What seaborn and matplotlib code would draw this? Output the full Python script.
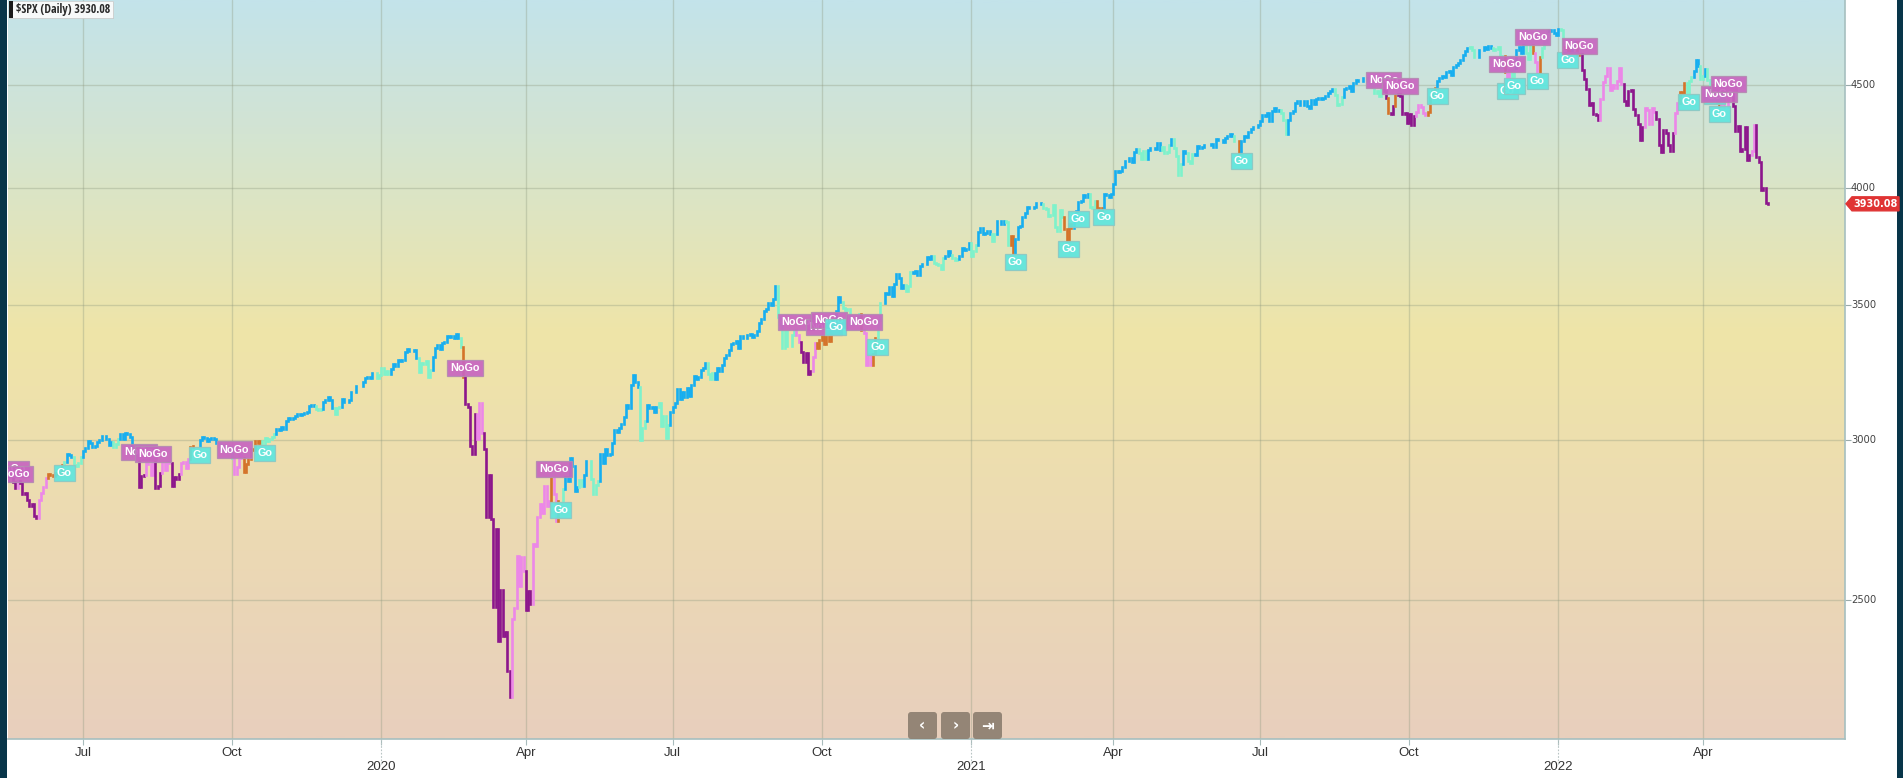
import numpy as np
import pandas as pd
import matplotlib
matplotlib.use("Agg")
import matplotlib.pyplot as plt
import seaborn as sns
from matplotlib import font_manager
from matplotlib.font_manager import FontProperties
from matplotlib.patches import Rectangle, Polygon, FancyBboxPatch
from matplotlib.colors import LinearSegmentedColormap
from matplotlib.ticker import NullLocator, NullFormatter
from matplotlib.transforms import IdentityTransform, blended_transform_factory

# ---------------------------------------------------------------- data
# Daily closes of $SPX, 16 May 2019 .. 12 May 2022 (one value per session)
spx_2019 = [
    2876, 2860, 2840, 2864, 2856, 2822, 2826, 2802, 2783, 2789, 2752,
    2744, 2803, 2826, 2843, 2873, 2886, 2885, 2879, 2891, 2887, 2889, 2917, 2926, 2954, 2950, 2945, 2917, 2913, 2924, 2942,
    2964, 2973, 2996, 2990, 2976, 2979, 2993, 3000, 3014, 3014, 3004, 2985, 2995, 2977, 2986, 3005, 3020, 3004, 3026, 3021, 3013, 2980,
    2954, 2932, 2844, 2881, 2884, 2938, 2919, 2883, 2926, 2840, 2848, 2889, 2924, 2901, 2925, 2923, 2847, 2878, 2869, 2888, 2924, 2926,
    2906, 2938, 2977, 2979, 2979, 2980, 3001, 3010, 3007, 2998, 3006, 3007, 3006, 2992, 2992, 2967, 2985, 2977, 2962, 2977,
    2940, 2888, 2910, 2952, 2939, 2893, 2919, 2938, 2970, 2966, 2996, 2990, 2998, 2986, 3007, 2996, 3004, 3010, 3023, 3040, 3036, 3047, 3038,
    3067, 3078, 3075, 3077, 3085, 3093, 3087, 3091, 3094, 3097, 3120, 3122, 3120, 3108, 3104, 3110, 3134, 3141, 3153, 3141,
    3114, 3093, 3113, 3117, 3146, 3135, 3133, 3142, 3169, 3169, 3192, 3192, 3191, 3206, 3221, 3224, 3223, 3240, 3240, 3221, 3231,
]
spx_2020 = [
    3258, 3235, 3246, 3237, 3253, 3275, 3265, 3288, 3283, 3289, 3317, 3330, 3321, 3321, 3326, 3295, 3244, 3276, 3273, 3284, 3226,
    3249, 3298, 3334, 3345, 3328, 3352, 3358, 3379, 3374, 3380, 3370, 3386, 3373, 3338, 3226, 3128, 3116, 2979, 2954,
    3090, 3003, 3130, 3024, 2972, 2747, 2882, 2741, 2481, 2711, 2386, 2529, 2398, 2409, 2305, 2237, 2447, 2476, 2630, 2541, 2627, 2585,
    2471, 2527, 2489, 2664, 2659, 2750, 2790, 2762, 2846, 2783, 2800, 2875, 2823, 2737, 2799, 2798, 2837, 2878, 2863, 2940, 2912,
    2830, 2843, 2868, 2848, 2882, 2930, 2930, 2870, 2820, 2852, 2864, 2954, 2923, 2972, 2949, 2955, 2992, 3036, 3030, 3044,
    3056, 3081, 3123, 3112, 3194, 3232, 3207, 3190, 3002, 3041, 3067, 3125, 3114, 3115, 3098, 3118, 3131, 3050, 3084, 3009, 3053, 3100,
    3116, 3130, 3180, 3145, 3169, 3152, 3185, 3155, 3197, 3227, 3216, 3225, 3251, 3257, 3276, 3236, 3216, 3239, 3218, 3258, 3246, 3271,
    3295, 3306, 3327, 3349, 3351, 3360, 3333, 3380, 3373, 3373, 3382, 3389, 3375, 3385, 3397, 3431, 3444, 3479, 3485, 3508, 3500,
    3527, 3580, 3455, 3427, 3332, 3399, 3340, 3341, 3383, 3401, 3385, 3357, 3320, 3282, 3316, 3237, 3247, 3298, 3351, 3335, 3363,
    3381, 3348, 3409, 3361, 3419, 3447, 3477, 3535, 3512, 3489, 3483, 3484, 3427, 3443, 3436, 3453, 3465, 3401, 3391, 3271, 3310, 3270,
    3310, 3370, 3443, 3510, 3509, 3551, 3545, 3572, 3537, 3585, 3627, 3610, 3568, 3582, 3558, 3578, 3635, 3630, 3638, 3622,
    3662, 3669, 3667, 3699, 3692, 3702, 3673, 3668, 3663, 3647, 3695, 3702, 3722, 3709, 3695, 3687, 3690, 3703, 3735, 3727, 3732, 3756,
]
spx_2021 = [
    3701, 3726, 3748, 3804, 3825, 3799, 3801, 3810, 3795, 3768, 3798, 3852, 3853, 3841, 3855, 3850, 3751, 3787, 3714,
    3774, 3826, 3830, 3872, 3887, 3916, 3911, 3910, 3917, 3934, 3933, 3931, 3913, 3907, 3877, 3881, 3925, 3829, 3811,
    3901, 3870, 3820, 3768, 3842, 3821, 3875, 3899, 3939, 3943, 3969, 3963, 3974, 3915, 3913, 3941, 3911, 3889, 3910, 3975, 3971, 3959, 3973,
    4020, 4078, 4074, 4080, 4097, 4129, 4128, 4142, 4124, 4171, 4185, 4164, 4135, 4173, 4135, 4180, 4188, 4187, 4184, 4211, 4181,
    4193, 4165, 4168, 4202, 4233, 4189, 4153, 4063, 4113, 4174, 4164, 4128, 4116, 4160, 4156, 4198, 4188, 4195, 4201, 4204,
    4202, 4208, 4192, 4230, 4226, 4227, 4219, 4239, 4247, 4255, 4247, 4224, 4222, 4166, 4224, 4246, 4242, 4266, 4281, 4291, 4291, 4298,
    4320, 4352, 4344, 4358, 4321, 4370, 4385, 4369, 4374, 4360, 4327, 4258, 4323, 4359, 4368, 4412, 4422, 4402, 4401, 4419, 4395,
    4387, 4423, 4403, 4429, 4437, 4432, 4436, 4447, 4460, 4468, 4479, 4449, 4400, 4406, 4442, 4480, 4486, 4497, 4470, 4509, 4529, 4523,
    4524, 4537, 4535, 4520, 4514, 4493, 4459, 4469, 4443, 4481, 4473, 4433, 4358, 4355, 4395, 4449, 4455, 4443, 4353, 4360, 4308,
    4357, 4300, 4346, 4364, 4399, 4391, 4361, 4351, 4364, 4438, 4471, 4486, 4520, 4537, 4550, 4545, 4567, 4575, 4551, 4597, 4605,
    4614, 4631, 4660, 4680, 4697, 4702, 4685, 4646, 4650, 4683, 4683, 4701, 4688, 4704, 4698, 4683, 4690, 4701, 4595, 4655, 4567,
    4513, 4577, 4538, 4592, 4686, 4701, 4668, 4712, 4669, 4635, 4709, 4669, 4621, 4568, 4649, 4697, 4726, 4791, 4786, 4793, 4778, 4766,
]
spx_2022 = [
    4797, 4794, 4701, 4696, 4677, 4670, 4713, 4726, 4660, 4663, 4577, 4533, 4483, 4398, 4410, 4357, 4350, 4326, 4432, 4516,
    4546, 4589, 4477, 4501, 4484, 4522, 4587, 4504, 4419, 4402, 4472, 4475, 4380, 4349, 4305, 4225, 4288, 4385, 4374,
    4306, 4387, 4363, 4329, 4201, 4171, 4278, 4260, 4204, 4173, 4263, 4358, 4412, 4463, 4461, 4512, 4457, 4520, 4543, 4576, 4632, 4602, 4530,
    4546, 4583, 4525, 4481, 4500, 4488, 4413, 4397, 4447, 4392, 4391, 4463, 4459, 4394, 4272, 4297, 4175, 4184, 4288, 4132,
    4155, 4175, 4300, 4147, 4123, 3991, 4001, 3935, 3930.08,
]

# Exchange holidays inside the window
market_holidays = [
    "2019-05-27", "2019-07-04", "2019-09-02", "2019-11-28", "2019-12-25",
    "2020-01-01", "2020-01-20", "2020-02-17", "2020-04-10", "2020-05-25", "2020-07-03",
    "2020-09-07", "2020-11-26", "2020-12-25",
    "2021-01-01", "2021-01-18", "2021-02-15", "2021-04-02", "2021-05-31", "2021-07-05",
    "2021-09-06", "2021-11-25", "2021-12-24",
    "2022-01-17", "2022-02-21", "2022-04-15",
]

# GoNoGo regime: first session of each regime
# G = strong Go, g = weak Go, A = amber, n = weak NoGo, N = strong NoGo
regime_start = [
    "2019-05-16", "2019-05-21", "2019-05-22", "2019-06-04", "2019-06-10", "2019-06-19", "2019-06-20", "2019-06-25",
    "2019-07-01", "2019-07-19", "2019-07-24", "2019-08-01", "2019-08-05", "2019-08-08", "2019-08-14", "2019-08-19",
    "2019-08-23", "2019-08-29", "2019-09-05", "2019-09-11", "2019-09-23", "2019-10-02", "2019-10-08", "2019-10-18",
    "2019-10-28", "2019-11-20", "2019-11-25", "2019-12-03", "2019-12-06", "2019-12-30",
    "2020-01-08", "2020-01-27", "2020-02-04", "2020-02-21", "2020-02-24", "2020-02-25", "2020-03-03", "2020-03-06",
    "2020-03-24", "2020-04-01", "2020-04-06", "2020-04-17", "2020-04-20", "2020-04-22", "2020-04-23", "2020-04-27",
    "2020-05-05", "2020-05-07", "2020-05-12", "2020-05-18", "2020-06-11", "2020-06-16", "2020-06-23", "2020-06-30",
    "2020-07-23", "2020-07-28", "2020-09-03", "2020-09-16", "2020-09-18", "2020-09-25", "2020-09-29", "2020-10-09",
    "2020-10-14", "2020-10-26", "2020-10-27", "2020-11-02", "2020-11-04", "2020-11-09", "2020-11-20", "2020-11-25",
    "2020-12-09", "2020-12-16", "2020-12-21", "2020-12-24",
    "2021-01-04", "2021-01-07", "2021-01-15", "2021-01-20", "2021-01-26", "2021-01-28", "2021-02-01", "2021-02-18",
    "2021-03-03", "2021-03-09", "2021-03-18", "2021-03-23", "2021-03-26", "2021-04-19", "2021-04-23", "2021-05-03",
    "2021-05-07", "2021-05-10", "2021-05-14", "2021-05-18", "2021-05-21", "2021-06-16", "2021-06-18", "2021-06-21",
    "2021-07-15", "2021-07-20", "2021-08-17", "2021-08-23", "2021-09-03", "2021-09-16", "2021-09-20", "2021-09-21",
    "2021-09-23", "2021-09-24", "2021-10-06", "2021-10-13", "2021-10-19", "2021-11-08", "2021-11-12", "2021-11-22",
    "2021-11-30", "2021-12-01", "2021-12-03", "2021-12-07", "2021-12-13", "2021-12-16", "2021-12-17", "2021-12-21",
    "2021-12-22", "2021-12-28",
    "2022-01-04", "2022-01-06", "2022-01-11", "2022-01-13", "2022-01-18", "2022-01-28", "2022-02-11", "2022-02-25",
    "2022-03-04", "2022-03-16", "2022-03-18", "2022-03-23", "2022-03-28", "2022-03-31", "2022-04-04", "2022-04-05",
    "2022-04-07", "2022-04-13", "2022-04-21", "2022-05-03", "2022-05-05",
]
regime_code = [
    "N", "n", "N", "n", "A", "g", "G", "g",
    "G", "g", "G", "g", "N", "n", "N", "n",
    "N", "n", "A", "G", "g", "n", "A", "g",
    "G", "g", "G", "g", "G", "g",
    "G", "g", "G", "g", "A", "N", "n", "N",
    "n", "N", "n", "A", "n", "A", "g", "G",
    "g", "G", "g", "G", "g", "G", "g", "G",
    "g", "G", "g", "n", "N", "n", "A", "G",
    "g", "A", "n", "A", "g", "G", "g", "G",
    "g", "G", "g", "G",
    "g", "G", "g", "G", "g", "A", "G", "g",
    "A", "G", "g", "A", "G", "g", "G", "g",
    "G", "g", "G", "g", "G", "g", "A", "G",
    "g", "G", "g", "G", "g", "N", "A", "N",
    "A", "N", "n", "A", "G", "g", "G", "g",
    "A", "n", "g", "G", "g", "A", "n", "A",
    "g", "G",
    "g", "A", "G", "A", "N", "n", "N", "n",
    "N", "n", "A", "g", "G", "g", "G", "g",
    "A", "n", "N", "n", "N",
]

# Signal flags printed on the chart
signal_dates = [
    "2019-05-16", "2019-05-20", "2019-06-19", "2019-08-05", "2019-08-13", "2019-09-11", "2019-10-02",
    "2019-10-21",
    "2020-02-25", "2020-04-20", "2020-04-23", "2020-09-16", "2020-10-02", "2020-10-06", "2020-10-09",
    "2020-10-27", "2020-11-04",
    "2021-02-01", "2021-03-05", "2021-03-11", "2021-03-26", "2021-06-21", "2021-09-16", "2021-09-27",
    "2021-10-19", "2021-12-01", "2021-12-01", "2021-12-06", "2021-12-16", "2021-12-20",
    "2022-01-07", "2022-01-14", "2022-03-24", "2022-04-08", "2022-04-12", "2022-04-12", "2022-04-19",
]
signal_text = [
    "NoGo", "NoGo", "Go", "NoGo", "NoGo", "Go", "NoGo",
    "Go",
    "NoGo", "NoGo", "Go", "NoGo", "NoGo", "NoGo", "Go",
    "NoGo", "Go",
    "Go", "Go", "Go", "Go", "Go", "NoGo", "NoGo",
    "Go", "NoGo", "Go", "Go", "NoGo", "Go",
    "Go", "NoGo", "Go", "Go", "NoGo", "Go", "NoGo",
]

quarter_dates = ["2019-07-01", "2019-10-01", "2020-01-02", "2020-04-01", "2020-07-01", "2020-10-01",
                 "2021-01-04", "2021-04-01", "2021-07-01", "2021-10-01", "2022-01-03", "2022-04-01"]
quarter_labels = ["Jul", "Oct", "\n2020", "Apr", "Jul", "Oct", "\n2021", "Apr", "Jul", "Oct", "\n2022", "Apr"]
price_ticks = [2500, 3000, 3500, 4000, 4500]
title_text = "$SPX (Daily) 3930.08"

# ---------------------------------------------------------------- styling
sns.set_theme(style="white")
plt.rcParams["font.family"] = ["DejaVu Sans"]

ttf = font_manager.fontManager.ttflist
available = {f.name for f in ttf}


def pick_font(*names):
    for n in names:
        if n in available:
            return n
    return "DejaVu Sans"


def condensed_bold():
    """A narrow bold face for the symbol caption, if one is installed."""
    for f in ttf:
        if f.name in ("Liberation Sans Narrow", "Roboto Condensed", "Open Sans Condensed") \
                and f.weight in (700, "bold"):
            return FontProperties(fname=f.fname), 8.6
    for f in ttf:
        if "DejaVuSansCondensed-Bold.ttf" in f.fname:
            return FontProperties(fname=f.fname), 8.0
    return FontProperties(family="Liberation Sans", weight="bold"), 7.3


axis_font = pick_font("Liberation Sans", "Arial")
flag_font = pick_font("Liberation Sans", "DejaVu Sans")
title_fp, title_size = condensed_bold()

regime_colors = {"G": "#16aef0", "g": "#7ef2cb", "A": "#d4732a", "n": "#ec87e8", "N": "#8c168c"}
flag_style = {
    "NoGo": dict(fc="#c866c0", ec="#b58ab2"),
    "Go": dict(fc="#5fe6de", ec="#8cc9c4"),
}

W, H = 1903, 778
fig = plt.figure(figsize=(W / 100, H / 100), dpi=100, facecolor="white")


def fx(px):
    return px / W


def fy(py):
    return 1 - py / H


rect = [fx(8), fy(739), fx(1845) - fx(8), fy(0) - fy(739)]

# gradient backdrop
bg = fig.add_axes(rect, zorder=0)
grad = LinearSegmentedColormap.from_list(
    "sky", [(0.0, "#c3e3ea"), (0.18, "#d3e4d2"), (0.45, "#efe5a8"),
            (0.72, "#ecdab3"), (1.0, "#e8cfbd")])
bg.imshow(np.linspace(0, 1, 400).reshape(-1, 1), cmap=grad, aspect="auto",
          extent=(0, 1, 0, 1), origin="upper")
bg.set_axis_off()

ax = fig.add_axes(rect, zorder=1)
ax.patch.set_alpha(0)

# ---------------------------------------------------------------- bars
sessions = pd.bdate_range("2019-05-16", "2022-05-12")
sessions = sessions[~sessions.isin(pd.to_datetime(market_holidays))]
close = np.array(spx_2019 + spx_2020 + spx_2021 + spx_2022, dtype=float)
assert len(sessions) == len(close), (len(sessions), len(close))
idx = np.arange(len(close))
open_ = np.r_[close[0], close[:-1]]
lo = np.minimum(open_, close)
hi = np.maximum(open_, close)

starts = pd.to_datetime(regime_start).values
which = np.searchsorted(starts, sessions.values, side="right") - 1
bar_colors = [regime_colors[regime_code[k]] for k in which]

frame = pd.DataFrame({"i": idx, "lo": lo, "hi": hi})
bars = ax.vlines(frame["i"], frame["lo"], frame["hi"], colors=bar_colors, linewidth=1.9, zorder=3)
bars.set_capstyle("projecting")

ax.set_yscale("log")
ax.set_xlim(-1.18, 787.0)
ax.set_ylim(2133, 4960)

# ---------------------------------------------------------------- flags
for d, kind in zip(signal_dates, signal_text):
    i = sessions.get_loc(pd.Timestamp(d))
    if kind == "NoGo":
        y, off, va = hi[i], 2.5, "bottom"
    else:
        y, off, va = lo[i], -2.5, "top"
    st = flag_style[kind]
    ann = ax.annotate(kind, xy=(i, y), xytext=(0, off), textcoords="offset points",
                      ha="center", va=va, color="white", fontsize=7.8, fontweight="bold",
                      fontfamily=flag_font, zorder=6, annotation_clip=False,
                      bbox=dict(boxstyle="square,pad=0.28", fc=st["fc"], ec=st["ec"],
                                lw=0.9, alpha=0.93))
    ann.set_clip_on(True)
    ann.set_clip_path(ax.patch)

# ---------------------------------------------------------------- axes
qpos = [sessions.searchsorted(pd.Timestamp(d)) for d in quarter_dates]
ax.set_xticks(qpos)
ax.set_xticklabels(quarter_labels, fontfamily=axis_font, fontsize=9.5, color="#333333")
ax.set_yticks(price_ticks)
ax.yaxis.set_minor_locator(NullLocator())
ax.yaxis.set_minor_formatter(NullFormatter())
ax.tick_params(axis="x", length=4, width=0.8, color="#a8bcbc", pad=2, bottom=True)
ax.tick_params(axis="y", which="both", length=4, width=0.8, color="#9aa", right=True, left=False,
               labelleft=False, labelright=False)
ax.grid(True, color="#8f9a80", alpha=0.35, linewidth=1.0)
ax.set_axisbelow(True)
for s in ("top", "left"):
    ax.spines[s].set_visible(False)
for s in ("bottom", "right"):
    ax.spines[s].set_color("#a6bfbf")
    ax.spines[s].set_linewidth(1.2)

# price labels to the right of the frame
for p in price_ticks:
    yp = H - ax.transData.transform((0, p))[1]
    fig.text(fx(1851), fy(yp), str(p), ha="left", va="center", fontsize=7.2, color="#444444")

# dashed year ticks
yr_trans = blended_transform_factory(ax.transData, ax.transAxes)
for p, lab in zip(qpos, quarter_labels):
    if lab.startswith("\n"):
        ax.plot([p, p], [0, -0.035], transform=yr_trans, color="#b8c4c4",
                lw=0.8, ls=(0, (1.5, 1.5)), clip_on=False, zorder=1)

# ---------------------------------------------------------------- chrome
pix = IdentityTransform()


def to_disp(x, y):
    return x, H - y


fig.patches.append(Rectangle((0, 0), fx(7.5), 1, transform=fig.transFigure,
                             fc="#083549", ec="none", zorder=10))
fig.patches.append(Rectangle((fx(1897), 0), 1 - fx(1897), 1, transform=fig.transFigure,
                             fc="#083549", ec="none", zorder=10))

# title box
fig.patches.append(Rectangle(to_disp(10, 19), 104, 17, transform=pix, fc="#999999",
                             ec="none", alpha=0.35, zorder=11))
fig.patches.append(Rectangle(to_disp(9, 18), 104, 17, transform=pix, fc="white",
                             ec="#c8c8c8", lw=0.5, alpha=0.9, zorder=12))
fig.patches.append(Rectangle(to_disp(9, 18), 4, 17, transform=pix, fc="#1b1b1b",
                             ec="none", zorder=13))
fig.text(fx(16), fy(9.8), title_text.replace("$", r"\$"), ha="left", va="center",
         fontproperties=title_fp, fontsize=title_size, fontweight="bold",
         color="#2a2a2a", zorder=14)

# last-price tag
yt = H - ax.transData.transform((0, close[-1]))[1]
tag = [(1846, yt), (1852, yt - 7), (1899, yt - 7), (1899, yt + 7), (1852, yt + 7)]
fig.patches.append(Polygon([to_disp(x, y) for x, y in tag], closed=True, transform=pix,
                           fc="#e03434", ec="#e03434", zorder=12))
fig.text(fx(1875.5), fy(yt + 0.3), f"{close[-1]:.2f}", ha="center", va="center",
         fontsize=7, fontweight="bold", color="white", zorder=13)

# navigation buttons
for x0, glyph in ((908, "\u2039"), (941, "\u203a"), (973, "\u21e5")):
    fig.patches.append(FancyBboxPatch(to_disp(x0, 739), 29, 27, transform=pix,
                                      boxstyle="round,pad=0,rounding_size=3",
                                      fc="#8d7f70", ec="none", alpha=0.92, zorder=12))
    fig.text(fx(x0 + 14.5), fy(725.5), glyph, ha="center", va="center", fontsize=11,
             fontweight="bold", color="white", zorder=13)

fig.savefig("out.png", dpi=100, facecolor="white")
